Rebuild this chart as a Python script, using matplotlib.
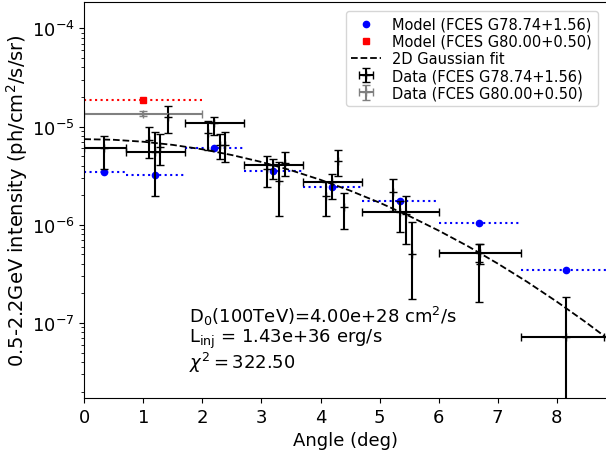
import numpy as np
import matplotlib
matplotlib.use('Agg')
from matplotlib import pyplot as plt

# binned data, FCES G78.74+1.56
bin_x = [0.34, 1.2, 2.2, 3.2, 4.2, 5.35, 6.7, 8.15]
bin_lo = [0.0, 0.7, 1.7, 2.7, 3.7, 4.7, 6.0, 7.4]
bin_hi = [0.7, 1.7, 2.7, 3.7, 4.7, 6.0, 7.4, 8.8]
bin_y = [6.08e-6, 5.53e-6, 1.08e-5, 4.06e-6, 2.74e-6, 1.36e-6, 5.12e-7, 7.24e-8]
bin_ylo = [3.69e-6, 1.97e-6, 8.18e-6, 2.92e-6, 1.83e-6, 8.37e-7, 4.0e-7, -4.0e-8]
bin_yhi = [7.94e-6, 8.73e-6, 1.24e-5, 4.67e-6, 3.29e-6, 1.75e-6, 6.35e-7, 1.82e-7]

# single points, FCES G78.74+1.56
pt_x = [1.10, 1.28, 1.41, 2.10, 2.30, 2.39, 3.09, 3.30, 3.40, 4.09, 4.29, 4.40,
        5.23, 5.45, 5.55, 6.69]
pt_y = [7.3e-6, 6.2e-6, 1.24e-5, 8.6e-6, 6.5e-6, 6.5e-6, 3.7e-6, 2.78e-6, 4.3e-6,
        1.96e-6, 4.5e-6, 1.52e-6, 2.17e-6, 1.3e-6, 5.0e-7, 4.2e-7]
pt_ylo = [4.74e-6, 4.06e-6, 8.59e-6, 5.81e-6, 4.67e-6, 4.32e-6, 2.40e-6, 1.24e-6,
          3.11e-6, 1.22e-6, 3.16e-6, 9.03e-7, 1.39e-6, 6.35e-7, 1.75e-7, 1.62e-7]
pt_yhi = [9.82e-6, 8.39e-6, 1.63e-5, 1.15e-5, 8.39e-6, 8.73e-6, 4.98e-6, 4.32e-6,
          5.46e-6, 2.70e-6, 5.81e-6, 2.13e-6, 2.96e-6, 1.97e-6, 1.06e-6, 6.35e-7]

# FCES G80.00+0.50
g80_x, g80_lo, g80_hi = 1.0, 0.0, 2.0
g80_y, g80_ylo, g80_yhi = 1.34e-5, 1.27e-5, 1.43e-5
g80_model = 1.86e-5

# model, FCES G78.74+1.56
mod_x = [0.34, 1.2, 2.2, 3.2, 4.2, 5.35, 6.69, 8.15]
mod_lo = [0.0, 0.7, 1.7, 2.7, 3.7, 4.7, 6.0, 7.4]
mod_hi = [0.7, 1.7, 2.7, 3.7, 4.7, 6.0, 7.4, 9.0]
mod_y = [3.42e-6, 3.21e-6, 6.12e-6, 3.50e-6, 2.44e-6, 1.74e-6, 1.04e-6, 3.48e-7]

# 2D gaussian fit
fit_x = [0, 0.5, 1, 1.5, 2, 2.5, 3, 3.5, 4, 4.5, 5, 5.5, 6, 6.5, 7, 7.5, 8, 8.5, 9]
fit_y = [7.45e-6, 7.34e-6, 7.01e-6, 6.51e-6, 5.87e-6, 5.13e-6, 4.36e-6, 3.59e-6,
         2.87e-6, 2.23e-6, 1.68e-6, 1.23e-6, 8.73e-7, 6.03e-7, 4.03e-7, 2.62e-7,
         1.65e-7, 1.01e-7, 6.0e-8]

FS = 13

fig = plt.figure(figsize=(6.06, 4.56), dpi=100)
ax = fig.add_axes([0.1391, 0.125, 0.8624, 0.869])

ax.hlines(mod_y, mod_lo, mod_hi, colors='b', linestyles=':', lw=1.5)
ax.plot(mod_x, mod_y, 'o', color='b', ms=4.5, label='Model (FCES G78.74+1.56)')
ax.hlines([g80_model], [g80_lo], [g80_hi], colors='r', linestyles=':', lw=1.5)
ax.plot([g80_x], [g80_model], 's', color='r', ms=4.5, label='Model (FCES G80.00+0.50)')
ax.plot(fit_x, fit_y, 'k--', lw=1.3, label='2D Gaussian fit')

by = np.array(bin_y)
bx = np.array(bin_x)
ax.errorbar(bin_x, bin_y,
            xerr=[bx - np.array(bin_lo), np.array(bin_hi) - bx],
            yerr=[by - np.array(bin_ylo), np.array(bin_yhi) - by],
            fmt='+', color='k', ecolor='k', elinewidth=1.5, capsize=3,
            label='Data (FCES G78.74+1.56)')
py_ = np.array(pt_y)
ax.errorbar(pt_x, pt_y, yerr=[py_ - np.array(pt_ylo), np.array(pt_yhi) - py_],
            fmt='+', color='k', ecolor='k', elinewidth=1.5, capsize=3)
ax.errorbar([g80_x], [g80_y],
            xerr=[[g80_x - g80_lo], [g80_hi - g80_x]],
            yerr=[[g80_y - g80_ylo], [g80_yhi - g80_y]],
            fmt='+', color='gray', ecolor='gray', elinewidth=1.5, capsize=3,
            label='Data (FCES G80.00+0.50)')

ax.set_yscale('log')
ax.set_xlim(0, 8.85)
ax.set_ylim(1.72e-8, 1.87e-4)
ax.set_xticks(range(9))
ax.tick_params(labelsize=FS)
ax.set_xlabel('Angle (deg)', fontsize=FS)
ax.set_ylabel('0.5-2.2GeV intensity (ph/cm$^2$/s/sr)', fontsize=14, labelpad=1)

ax.text(0.201, 0.191, 'D$_0$(100TeV)=4.00e+28 cm$^2$/s',
        transform=ax.transAxes, fontsize=FS, va='baseline', ha='left')
ax.text(0.201, 0.1405, 'L$_{\\rm inj}$ = 1.43e+36 erg/s',
        transform=ax.transAxes, fontsize=FS, va='baseline', ha='left')
ax.text(0.201, 0.075, '$\\chi^2 = 322.50$',
        transform=ax.transAxes, fontsize=FS, va='baseline', ha='left')

ax.legend(loc='upper right', fontsize=10.5, labelspacing=0.15, borderaxespad=0.62)

fig.savefig('out.png', dpi=100)
